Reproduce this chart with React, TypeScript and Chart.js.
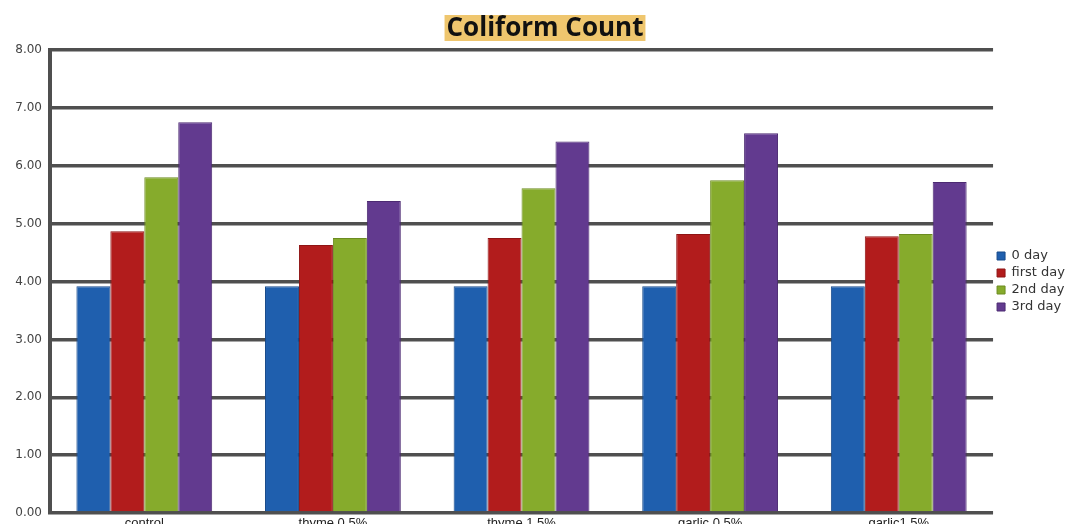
import React, { useEffect, useRef } from "react";
import { Chart, registerables } from "chart.js";

Chart.register(...registerables);

const titleText = "Coliform Count";
const categories = ["control", "thyme 0.5%", "thyme 1.5%", "garlic 0.5%", "garlic1.5%"];
const seriesNames = ["0 day", "first day", "2nd day", "3rd day"];
const day0 = [3.92, 3.92, 3.92, 3.92, 3.92];
const day1 = [4.87, 4.63, 4.75, 4.82, 4.78];
const day2 = [5.8, 4.75, 5.61, 5.75, 4.82];
const day3 = [6.75, 5.39, 6.42, 6.56, 5.72];
const yTicks = [0, 1, 2, 3, 4, 5, 6, 7, 8];

const fills = ["#1f5fae", "#b21c1c", "#86ab2c", "#623a8f"];
const edges = ["#174a8a", "#8f1414", "#6c8c20", "#4c2a72"];

const titleDraw = {
  id: "titleDraw",
  afterDraw(chart: any) {
    const ctx = chart.ctx;
    ctx.save();
    ctx.font = "bold 26px 'Open Sans'";
    const w = ctx.measureText(titleText).width;
    const cx = 545;
    const cy = 28;
    ctx.fillStyle = "#efc66e";
    ctx.fillRect(cx - w / 2 - 2, 15, w + 4, 26);
    ctx.fillStyle = "#111";
    ctx.textAlign = "center";
    ctx.textBaseline = "middle";
    ctx.fillText(titleText, cx, cy + 1);
    ctx.restore();
  },
};

export default function App() {
  const ref = useRef<HTMLCanvasElement>(null);
  useEffect(() => {
    document.body.style.margin = "0";
    document.body.style.overflow = "hidden";
    document.documentElement.style.overflow = "hidden";
    const data = [day0, day1, day2, day3];
    const chart = new Chart(ref.current!, {
      type: "bar",
      data: {
        labels: categories,
        datasets: seriesNames.map((n, i) => ({
          label: n,
          data: data[i],
          backgroundColor: fills[i],
          borderColor: edges[i],
          borderWidth: 1,
          categoryPercentage: 0.72,
          barPercentage: 1.0,
        })),
      },
      options: {
        animation: false,
        responsive: false,
        maintainAspectRatio: false,
        layout: { padding: { left: 0, right: 0, top: 50, bottom: 0 } },
        plugins: {
          title: { display: false },
          legend: {
            position: "right",
            fullSize: false,
            labels: {
              boxWidth: 8,
              boxHeight: 8,
              padding: 4,
              color: "#333",
              font: { family: "'DejaVu Sans'", size: 13 },
            },
          },
          tooltip: { enabled: false },
        },
        scales: {
          x: {
            grid: { display: false, drawTicks: false },
            border: { display: false },
            ticks: {
              color: "#222",
              font: { family: "'Liberation Sans Narrow', 'Liberation Sans'", size: 13 },
              padding: 3,
              maxRotation: 0,
            },
            afterFit(s: any) {
              s.height = 19;
            },
          },
          y: {
            min: 0,
            max: 8,
            afterBuildTicks(s: any) {
              s.ticks = yTicks.map((v) => ({ value: v }));
            },
            grid: { color: "#4f4f4f", lineWidth: 3.5, drawTicks: false, z: -1 },
            border: { display: true, color: "#4f4f4f", width: 4, z: -1 },
            ticks: {
              color: "#444",
              font: { family: "'DejaVu Sans'", size: 12 },
              padding: 8,
              callback: (v: any) => Number(v).toFixed(2),
            },
            afterFit(s: any) {
              s.width = 50;
            },
          },
        },
      },
      plugins: [titleDraw],
    });
    return () => chart.destroy();
  }, []);
  return <canvas ref={ref} width={1075} height={532} style={{ display: "block", width: 1075, height: 532 }} />;
}
